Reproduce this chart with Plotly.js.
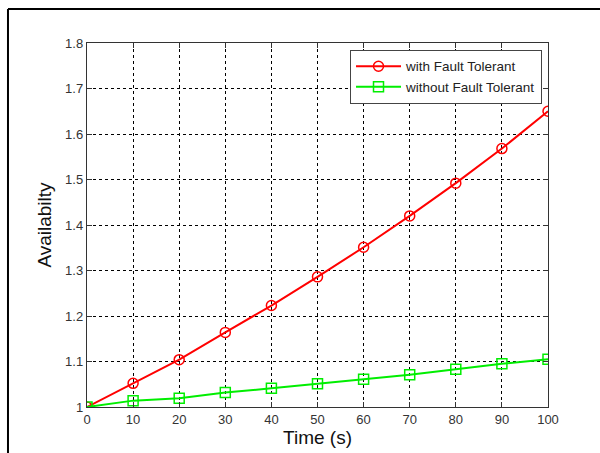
<!DOCTYPE html>
<html>
<head>
<meta charset="utf-8">
<script src="https://cdn.plot.ly/plotly-3.0.1.min.js"></script>
<style>
html,body{margin:0;padding:0;background:#fff;}
#chart{width:600px;height:453px;}
</style>
</head>
<body>
<div id="chart"></div>
<script>
const timeS = [0, 10, 20, 30, 40, 50, 60, 70, 80, 90, 100];
const withFT = [1.0, 1.052, 1.104, 1.164, 1.223, 1.286, 1.351, 1.420, 1.492, 1.568, 1.650];
const withoutFT = [1.0, 1.014, 1.019, 1.032, 1.041, 1.051, 1.061, 1.071, 1.083, 1.095, 1.105];
const yTicks = [1, 1.1, 1.2, 1.3, 1.4, 1.5, 1.6, 1.7, 1.8];
const yTickText = ['1', '1.1', '1.2', '1.3', '1.4', '1.5', '1.6', '1.7', '1.8'];
const xTicks = [0, 10, 20, 30, 40, 50, 60, 70, 80, 90, 100];

const font = 'Liberation Sans, Arial, sans-serif';

const traces = [
  {
    x: timeS, y: withFT, name: 'with Fault Tolerant',
    mode: 'lines+markers', type: 'scatter',
    line: {color: '#ff0000', width: 2},
    marker: {symbol: 'circle-open', size: 10, color: '#ff0000', line: {width: 1.5, color: '#ff0000'}}
  },
  {
    x: timeS, y: withoutFT, name: 'without Fault Tolerant',
    mode: 'lines+markers', type: 'scatter',
    line: {color: '#00ee00', width: 2},
    marker: {symbol: 'square-open', size: 10, color: '#00ee00', line: {width: 1.5, color: '#00ee00'}}
  }
];

const axisCommon = {
  showgrid: true, gridcolor: '#000', gridwidth: 1, griddash: '3px,3px',
  showline: true, linecolor: '#333', linewidth: 1.2, mirror: 'ticks',
  ticks: 'inside', ticklen: 5, tickcolor: '#333', tickwidth: 1,
  zeroline: false,
  tickfont: {family: font, size: 13, color: '#333'}
};

const layout = {
  width: 600, height: 453,
  margin: {l: 87, r: 52, t: 43, b: 46},
  paper_bgcolor: '#fff', plot_bgcolor: '#fff',
  showlegend: true,
  legend: {
    x: 0.987, y: 0.981, xanchor: 'right', yanchor: 'top',
    bgcolor: '#fff', bordercolor: '#444', borderwidth: 1,
    font: {family: font, size: 13.5, color: '#222'},
    itemwidth: 45,
    tracegroupgap: 0
  },
  xaxis: Object.assign({}, axisCommon, {
    range: [0, 100], tickvals: xTicks, ticktext: xTicks.map(String),
    title: {text: 'Time (s)', font: {family: font, size: 19, color: '#111'}, standoff: 2}
  }),
  yaxis: Object.assign({}, axisCommon, {
    range: [1, 1.8], tickvals: yTicks, ticktext: yTickText,
    title: {text: 'Availabilty', font: {family: font, size: 19, color: '#111'}, standoff: 8}
  }),
  shapes: [
    {type: 'line', xref: 'paper', yref: 'paper', x0: -0.1714, x1: -0.1714, y0: -0.2, y1: 1.0934,
     line: {color: '#000', width: 2}},
    {type: 'line', xref: 'paper', yref: 'paper', x0: -0.1714, x1: 1.2, y0: 1.0934, y1: 1.0934,
     line: {color: '#000', width: 2}}
  ]
};

Plotly.newPlot('chart', traces, layout, {displayModeBar: false, staticPlot: true});
</script>
</body>
</html>
